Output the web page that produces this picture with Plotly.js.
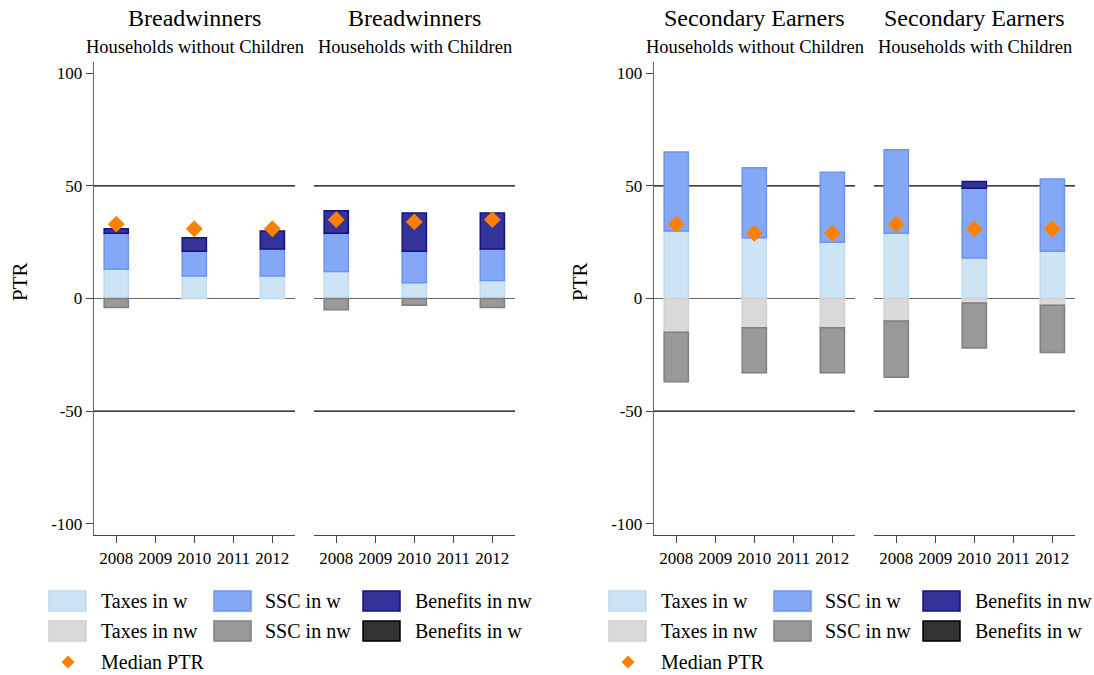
<!DOCTYPE html>
<html>
<head>
<meta charset="utf-8">
<script src="https://cdn.plot.ly/plotly-3.0.1.min.js"></script>
<style>html,body{margin:0;padding:0;background:#fff;}#chart{width:1094px;height:675px;}</style>
</head>
<body>
<div id="chart"></div>
<script>
// ---------- DATA ----------
const years = [2008, 2010, 2012];
const tickYears = [2008, 2009, 2010, 2011, 2012];

const panelTitles = ["Breadwinners", "Breadwinners", "Secondary Earners", "Secondary Earners"];
const panelSubtitles = ["Households without Children", "Households with Children", "Households without Children", "Households with Children"];

// segment sizes (percentage points)
// Breadwinners, without children
const bwNoCh_taxesW  = [13, 10, 10];
const bwNoCh_sscW    = [16, 11, 12];
const bwNoCh_benNW   = [2, 6, 8];
const bwNoCh_benW    = [0, 0, 0];
const bwNoCh_taxesNW = [0, 0, 0];
const bwNoCh_sscNW   = [-4, 0, 0];
const bwNoCh_median  = [33, 31, 31];

// Breadwinners, with children
const bwCh_taxesW  = [12, 7, 8];
const bwCh_sscW    = [17, 14, 14];
const bwCh_benNW   = [10, 17, 16];
const bwCh_benW    = [0, 0, 0];
const bwCh_taxesNW = [0, 0, 0];
const bwCh_sscNW   = [-5, -3, -4];
const bwCh_median  = [35, 34, 35];

// Secondary earners, without children
const seNoCh_taxesW  = [30, 27, 25];
const seNoCh_sscW    = [35, 31, 31];
const seNoCh_benNW   = [0, 0, 0];
const seNoCh_benW    = [0, 0, 0];
const seNoCh_taxesNW = [-15, -13, -13];
const seNoCh_sscNW   = [-22, -20, -20];
const seNoCh_median  = [33, 29, 29];

// Secondary earners, with children
const seCh_taxesW  = [29, 18, 21];
const seCh_sscW    = [37, 31, 32];
const seCh_benNW   = [0, 3, 0];
const seCh_benW    = [0, 0, 0];
const seCh_taxesNW = [-10, -2, -3];
const seCh_sscNW   = [-25, -20, -21];
const seCh_median  = [33, 31, 31];

const seriesNames = ["Taxes in w", "SSC in w", "Benefits in nw", "Benefits in w", "Taxes in nw", "SSC in nw"];
const medianName = "Median PTR";

// ---------- STYLE ----------
const W = 1094, H = 675;
const px = v => v / W;
const py = v => 1 - v / H;
const FONT = "Liberation Serif, Times New Roman, serif";

const seriesStyle = {
  "Taxes in w":     {fill: "#cce4f4", line: "#bcdaf0"},
  "SSC in w":       {fill: "#84a8f5", line: "#6b94ef"},
  "Benefits in nw": {fill: "#333399", line: "#13137f"},
  "Benefits in w":  {fill: "#333333", line: "#000000"},
  "Taxes in nw":    {fill: "#d9d9d9", line: "#d0d0d0"},
  "SSC in nw":      {fill: "#999999", line: "#7f7f7f"}
};
const medianColor = "#ff7f00";

const panels = [
  {x: "x",  y: "y",  data: [bwNoCh_taxesW, bwNoCh_sscW, bwNoCh_benNW, bwNoCh_benW, bwNoCh_taxesNW, bwNoCh_sscNW], med: bwNoCh_median},
  {x: "x2", y: "y",  data: [bwCh_taxesW, bwCh_sscW, bwCh_benNW, bwCh_benW, bwCh_taxesNW, bwCh_sscNW], med: bwCh_median},
  {x: "x3", y: "y2", data: [seNoCh_taxesW, seNoCh_sscW, seNoCh_benNW, seNoCh_benW, seNoCh_taxesNW, seNoCh_sscNW], med: seNoCh_median},
  {x: "x4", y: "y2", data: [seCh_taxesW, seCh_sscW, seCh_benNW, seCh_benW, seCh_taxesNW, seCh_sscNW], med: seCh_median}
];

const traces = [];
panels.forEach(p => {
  p.data.forEach((vals, i) => {
    const name = seriesNames[i];
    traces.push({
      type: "bar", x: years, y: vals.map(v => v === 0 ? null : v),
      xaxis: p.x, yaxis: p.y, name: name, width: 0.62, showlegend: false,
      marker: {color: seriesStyle[name].fill, line: {color: seriesStyle[name].line, width: 1.5}},
      hoverinfo: "x+y+name"
    });
  });
  traces.push({
    type: "scatter", mode: "markers", x: years, y: p.med, xaxis: p.x, yaxis: p.y,
    name: medianName, showlegend: false,
    marker: {symbol: "diamond", size: 13, color: medianColor}
  });
});

// ---------- AXES ----------
const xDomains = [[94, 295], [314, 515], [654, 855], [874, 1075]];
const yDomain = [py(535), py(62)];
const xRange = [2007.43, 2012.58];
const yRange = [-105, 105];

function xAxis(i, anchor) {
  return {
    domain: [px(xDomains[i][0]), px(xDomains[i][1])], anchor: anchor, range: xRange,
    tickvals: tickYears, ticktext: tickYears.map(String), ticks: "outside", ticklen: 7,
    tickcolor: "#444", showline: true, linecolor: "#444", linewidth: 1.3, showgrid: false,
    zeroline: false, tickfont: {size: 17, color: "#000", family: FONT}, fixedrange: true
  };
}
function yAxis(anchor) {
  return {
    domain: yDomain, anchor: anchor, range: yRange,
    tickvals: [-100, -50, 0, 50, 100], ticktext: ["-100", "-50", "0", "50", "100"],
    ticks: "outside", ticklen: 7, tickcolor: "#444", showline: true, linecolor: "#666", linewidth: 1.3,
    showgrid: false, zeroline: true, zerolinecolor: "#666", zerolinewidth: 1.5,
    tickfont: {size: 17, color: "#000", family: FONT}, fixedrange: true
  };
}

const shapes = [];
const annotations = [];

// grid lines at +/-50 in every panel
["x", "x2", "x3", "x4"].forEach((xa, i) => {
  const ya = i < 2 ? "y" : "y2";
  [50, -50].forEach(g => {
    shapes.push({type: "line", xref: xa + " domain", yref: ya, x0: 0, x1: 1, y0: g, y1: g,
      line: {color: "#000", width: 1.2}, layer: "below"});
  });
});

// panel titles
xDomains.forEach((d, i) => {
  const cx = px((d[0] + d[1]) / 2);
  annotations.push({xref: "paper", yref: "paper", x: cx, y: py(18), text: panelTitles[i],
    showarrow: false, xanchor: "center", yanchor: "middle", font: {size: 24, family: FONT, color: "#000"}});
  annotations.push({xref: "paper", yref: "paper", x: cx, y: py(47), text: panelSubtitles[i],
    showarrow: false, xanchor: "center", yanchor: "middle", font: {size: 18.5, family: FONT, color: "#000"}});
});

// y titles
[20, 580].forEach(xx => {
  annotations.push({xref: "paper", yref: "paper", x: px(xx), y: py(282), text: "PTR", textangle: -90,
    showarrow: false, xanchor: "center", yanchor: "middle", font: {size: 21, family: FONT, color: "#000"}});
});

// legends (manual, two copies)
const legendOrder = ["Taxes in w", "SSC in w", "Benefits in nw", "Taxes in nw", "SSC in nw", "Benefits in w"];
const swX = [49, 214, 363], txX = [99, 263, 413];
const rowTop = [591, 621], rowC = [601, 631, 662];
[0, 560].forEach(off => {
  legendOrder.forEach((name, k) => {
    const c = k % 3, r = Math.floor(k / 3);
    shapes.push({type: "rect", xref: "paper", yref: "paper",
      x0: px(swX[c] + off), x1: px(swX[c] + off + 37), y0: py(rowTop[r]), y1: py(rowTop[r] + 20),
      fillcolor: seriesStyle[name].fill, line: {color: seriesStyle[name].line, width: 1.5}});
    annotations.push({xref: "paper", yref: "paper", x: px(txX[c] + off), y: py(rowC[r]), text: name,
      showarrow: false, xanchor: "left", yanchor: "middle", font: {size: 20, family: FONT, color: "#000"}});
  });
  const dx = 68 + off, dy = 662, s = 6.5;
  shapes.push({type: "path", xref: "paper", yref: "paper",
    path: `M ${px(dx - s)},${py(dy)} L ${px(dx)},${py(dy - s)} L ${px(dx + s)},${py(dy)} L ${px(dx)},${py(dy + s)} Z`,
    fillcolor: medianColor, line: {width: 0}});
  annotations.push({xref: "paper", yref: "paper", x: px(txX[0] + off), y: py(rowC[2]), text: medianName,
    showarrow: false, xanchor: "left", yanchor: "middle", font: {size: 20, family: FONT, color: "#000"}});
});

const layout = {
  width: W, height: H, margin: {l: 0, r: 0, t: 0, b: 0},
  paper_bgcolor: "#fff", plot_bgcolor: "#fff",
  font: {family: FONT, color: "#000"},
  barmode: "relative", showlegend: false,
  xaxis: xAxis(0, "y"), xaxis2: xAxis(1, "y"), xaxis3: xAxis(2, "y2"), xaxis4: xAxis(3, "y2"),
  yaxis: yAxis("x"), yaxis2: yAxis("x3"),
  shapes: shapes, annotations: annotations
};

Plotly.newPlot("chart", traces, layout, {displayModeBar: false, staticPlot: true});
</script>
</body>
</html>
